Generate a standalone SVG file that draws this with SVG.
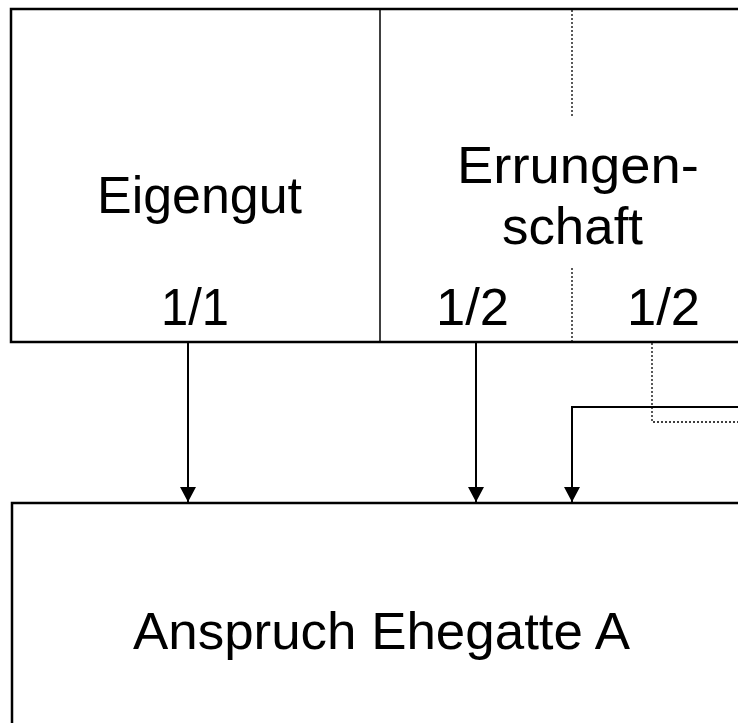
<svg xmlns="http://www.w3.org/2000/svg" width="738" height="723" viewBox="0 0 738 723">
<defs>
<style>
.box{fill:#fff;stroke:#000;stroke-width:2.5}
.thin{stroke:#000;stroke-width:1.5;fill:none}
.dot{stroke:#000;stroke-width:1.3;fill:none;stroke-dasharray:2 2}
.conn{stroke:#000;stroke-width:2;fill:none}
.t{font-family:"Liberation Sans",Arial,sans-serif;font-size:52.5px;fill:#000}
</style>
<marker id="ah" viewBox="0 0 15 16" refX="15" refY="8" markerWidth="15" markerHeight="16" markerUnits="userSpaceOnUse" orient="auto">
<path d="M0,0 L15,8 L0,16 Z" fill="#000"/>
</marker>
</defs>
<g id="top">
<rect class="box" x="11" y="9" width="740" height="333"/>
<line class="thin" x1="380" y1="9" x2="380" y2="342"/>
<line class="dot" x1="572" y1="10" x2="572" y2="118"/>
<line class="dot" x1="572" y1="268" x2="572" y2="341"/>
<text class="t" x="97" y="213" textLength="205" lengthAdjust="spacingAndGlyphs">Eigengut</text>
<text class="t" x="457" y="183" textLength="242" lengthAdjust="spacingAndGlyphs">Errungen-</text>
<text class="t" x="502" y="244" textLength="141" lengthAdjust="spacingAndGlyphs">schaft</text>
<text class="t" x="161" y="325" textLength="68" lengthAdjust="spacingAndGlyphs">1/1</text>
<text class="t" x="436" y="325" textLength="73" lengthAdjust="spacingAndGlyphs">1/2</text>
<text class="t" x="627" y="325" textLength="73" lengthAdjust="spacingAndGlyphs">1/2</text>
</g>
<g id="bottom">
<rect class="box" x="12" y="503" width="740" height="240"/>
<text class="t" x="133" y="649" textLength="497" lengthAdjust="spacingAndGlyphs">Anspruch Ehegatte A</text>
</g>
<g id="connectors">
<line class="conn" x1="188" y1="343" x2="188" y2="502" marker-end="url(#ah)"/>
<line class="conn" x1="476" y1="343" x2="476" y2="502" marker-end="url(#ah)"/>
<polyline class="conn" points="738,407 572,407 572,502" marker-end="url(#ah)"/>
<polyline class="dot" points="652,343 652,422 738,422"/>
</g>
</svg>
